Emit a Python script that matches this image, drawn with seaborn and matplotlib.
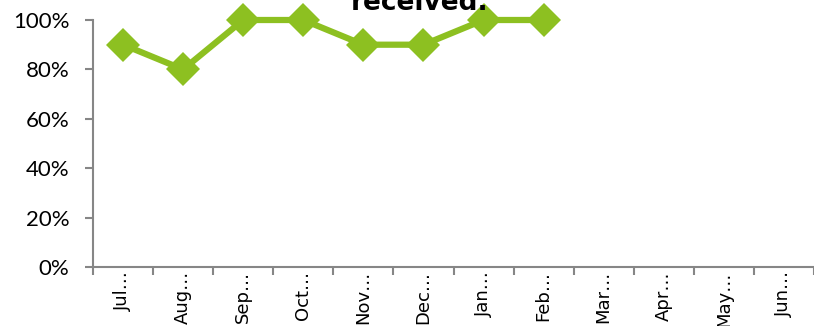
import numpy as np
import pandas as pd
import seaborn as sns
import matplotlib.pyplot as plt
from matplotlib.ticker import FixedLocator, PercentFormatter

# Data
months = ["Jul", "Aug", "Sep", "Oct", "Nov", "Dec", "Jan", "Feb", "Mar", "Apr", "May", "Jun"]
pct_received = [90, 80, 100, 100, 90, 90, 100, 100, np.nan, np.nan, np.nan, np.nan]
title_text = "received."

LINE_GREEN = "#8DC021"
AXIS_GREY = "#868686"

sns.set_theme(style="white")
plt.rcParams['font.family'] = ['DejaVu Sans']

df = pd.DataFrame({"pos": np.arange(len(months)), "pct": pct_received})

fig = plt.figure(figsize=(8.14, 3.26), dpi=100)
ax = fig.add_axes([93 / 814, 1 - 267 / 326, 721 / 814, 247 / 326])

sns.lineplot(data=df.dropna(), x="pos", y="pct", ax=ax, color=LINE_GREEN,
             linewidth=4.5, marker="D", markersize=17, markeredgewidth=0,
             clip_on=False)

ax.set_xlim(-0.5, len(months) - 0.5)
ax.set_ylim(0, 100)
ax.set_xlabel("")
ax.set_ylabel("")

# y axis
ax.set_yticks(range(0, 101, 20))
ax.yaxis.set_major_formatter(PercentFormatter(decimals=0))
for lab in ax.get_yticklabels():
    lab.set_family(['Lato', 'DejaVu Sans'])
    lab.set_fontsize(16)
ax.tick_params(axis="y", which="major", length=6, width=1.5, color=AXIS_GREY,
               left=True, pad=11, labelcolor="black")

# x axis: labels at centres, tick marks at boundaries
ax.set_xticks(range(len(months)))
ax.set_xticklabels([m + "\u2026" for m in months], rotation=90, fontsize=13,
                   va="top")
ax.xaxis.set_minor_locator(FixedLocator(np.arange(-0.5, len(months), 1.0)))
ax.tick_params(axis="x", which="major", length=0, pad=3, labelcolor="black")
ax.tick_params(axis="x", which="minor", length=6, width=1.5, color=AXIS_GREY,
               bottom=True)

for side in ["top", "right"]:
    ax.spines[side].set_visible(False)
for side in ["left", "bottom"]:
    ax.spines[side].set_color(AXIS_GREY)
    ax.spines[side].set_linewidth(1.5)

fig.text(420 / 814, 1 - 10 / 326, title_text, ha="center", va="baseline",
         fontsize=19, fontweight="bold", color="black")

fig.savefig("out.png", dpi=100)
